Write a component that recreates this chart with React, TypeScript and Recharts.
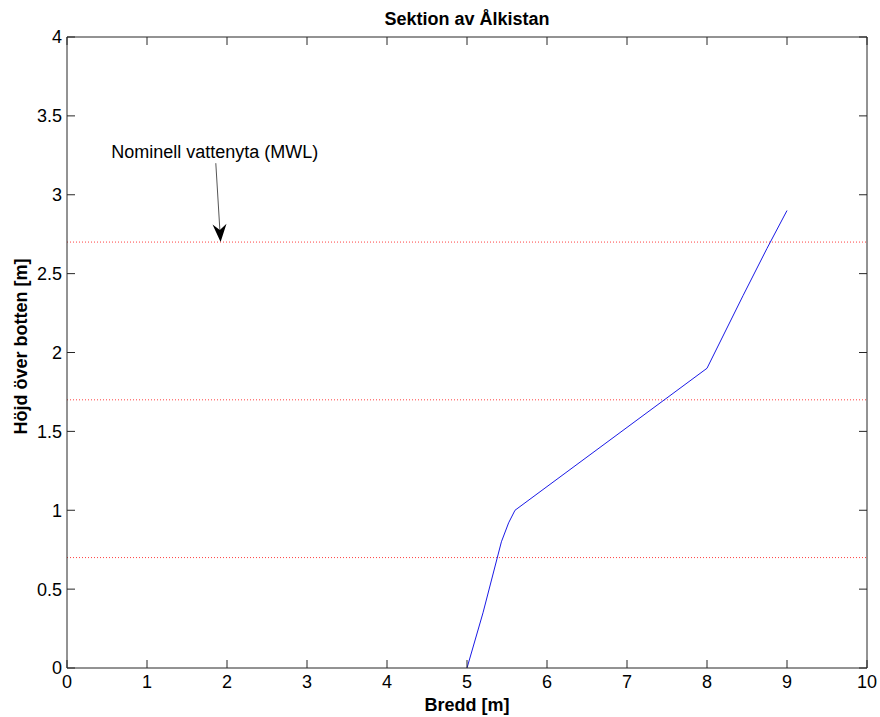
import React from "react"
import {
  LineChart,
  Line,
  XAxis,
  YAxis,
  ReferenceLine,
} from "recharts"

// Section profile of the eel trap (width vs height above bottom)
const widthM = [5, 5.2, 5.43, 5.52, 5.6, 8, 8.45, 8.75, 9]
const heightM = [0, 0.35, 0.8, 0.92, 1.0, 1.9, 2.36, 2.66, 2.9]

// Water levels drawn as dotted red lines
const waterLevels = [0.7, 1.7, 2.7]

const xTicks = [0, 1, 2, 3, 4, 5, 6, 7, 8, 9, 10]
const yTicks = [0, 0.5, 1, 1.5, 2, 2.5, 3, 3.5, 4]

// annotation arrow: from label down to the MWL line
const arrowFrom = { x: 1.86, y: 3.2 }
const arrowTo = { x: 1.92, y: 2.7 }
const arrowText = "Nominell vattenyta (MWL)"

const data = widthM.map((x, i) => ({ x, y: heightM[i] }))

const W = 880
const H = 717
const PLOT_TOP = 37
const PLOT_LEFT = 67
const PLOT_W = 800
const PLOT_H = 631
const FONT = "'Liberation Sans', Arial, sans-serif"
const FS = 18
const AXIS = "#262626"

function XTick({ x, y, payload }: any) {
  return (
    <g>
      <line x1={x} y1={y} x2={x} y2={y - 8} stroke={AXIS} />
      <line x1={x} y1={y - PLOT_H} x2={x} y2={y - PLOT_H + 8} stroke={AXIS} />
      <text x={x} y={y + 20} textAnchor="middle" fontSize={FS} fontFamily={FONT} fill="#000">
        {payload.value}
      </text>
    </g>
  )
}

function YTick({ x, y, payload }: any) {
  return (
    <g>
      <line x1={x} y1={y} x2={x + 8} y2={y} stroke={AXIS} />
      <line x1={x + PLOT_W} y1={y} x2={x + PLOT_W - 8} y2={y} stroke={AXIS} />
      <text x={x - 5} y={y} dy="0.36em" textAnchor="end" fontSize={FS} fontFamily={FONT} fill="#000">
        {payload.value}
      </text>
    </g>
  )
}

function ArrowShape({ x1, y1, x2, y2 }: any) {
  const dx = x2 - x1
  const dy = y2 - y1
  const len = Math.sqrt(dx * dx + dy * dy) || 1
  const ux = dx / len
  const uy = dy / len
  const nx = -uy
  const ny = ux
  const L = 18
  const hw = 7
  const bx = x2 - L * ux
  const by = y2 - L * uy
  const notchX = x2 - (L - 6) * ux
  const notchY = y2 - (L - 6) * uy
  const head = [
    [x2, y2],
    [bx + hw * nx, by + hw * ny],
    [notchX, notchY],
    [bx - hw * nx, by - hw * ny],
  ]
    .map((p) => p.join(","))
    .join(" ")
  return (
    <g>
      <line x1={x1} y1={y1} x2={notchX} y2={notchY} stroke="#555" strokeWidth={1} />
      <polygon points={head} fill="#000" />
      <text x={x1 - 1} y={y1 - 5} textAnchor="middle" fontSize={FS} fontFamily={FONT} fill="#000">
        {arrowText}
      </text>
    </g>
  )
}

export default function App() {
  return (
    <div style={{ position: "absolute", left: 0, top: 0, width: W, height: H, background: "#fff" }}>
      <LineChart
        width={W}
        height={H}
        data={data}
        margin={{ top: PLOT_TOP, right: W - PLOT_LEFT - PLOT_W, bottom: 0, left: 0 }}
      >
        <text
          x={PLOT_LEFT + PLOT_W / 2}
          y={25}
          textAnchor="middle"
          fontSize={FS}
          fontWeight="bold"
          fontFamily={FONT}
          fill="#000"
        >
          Sektion av Ålkistan
        </text>
        <XAxis
          type="number"
          dataKey="x"
          domain={[0, 10]}
          ticks={xTicks}
          interval={0}
          height={H - PLOT_TOP - PLOT_H}
          tickSize={0}
          tickMargin={0}
          tick={<XTick />}
          axisLine={{ stroke: AXIS }}
          label={{
            value: "Bredd [m]",
            position: "insideBottom",
            offset: 6,
            fontSize: FS,
            fontWeight: "bold",
            fontFamily: FONT,
            fill: "#000",
          }}
        />
        <YAxis
          type="number"
          domain={[0, 4]}
          ticks={yTicks}
          interval={0}
          width={PLOT_LEFT}
          tickSize={0}
          tickMargin={0}
          tick={<YTick />}
          axisLine={{ stroke: AXIS }}
          label={{
            content: ({ viewBox }: any) => {
              const cx = viewBox.x + 27
              const cy = viewBox.y + viewBox.height / 2 - 6
              return (
                <text
                  x={cx}
                  y={cy}
                  transform={`rotate(-90, ${cx}, ${cy})`}
                  textAnchor="middle"
                  fontSize={FS}
                  fontWeight="bold"
                  fontFamily={FONT}
                  fill="#000"
                >
                  Höjd över botten [m]
                </text>
              )
            },
          }}
        />
        <ReferenceLine y={4} stroke={AXIS} />
        <ReferenceLine x={10} stroke={AXIS} />
        {waterLevels.map((lvl) => (
          <ReferenceLine key={lvl} y={lvl} stroke="#ff4040" strokeDasharray="1 2" strokeWidth={1} />
        ))}
        <ReferenceLine
          segment={[arrowFrom, arrowTo]}
          shape={<ArrowShape />}
          ifOverflow="visible"
        />
        <Line
          type="linear"
          dataKey="y"
          stroke="#1a1ae6"
          strokeWidth={1}
          dot={false}
          isAnimationActive={false}
        />
      </LineChart>
    </div>
  )
}
